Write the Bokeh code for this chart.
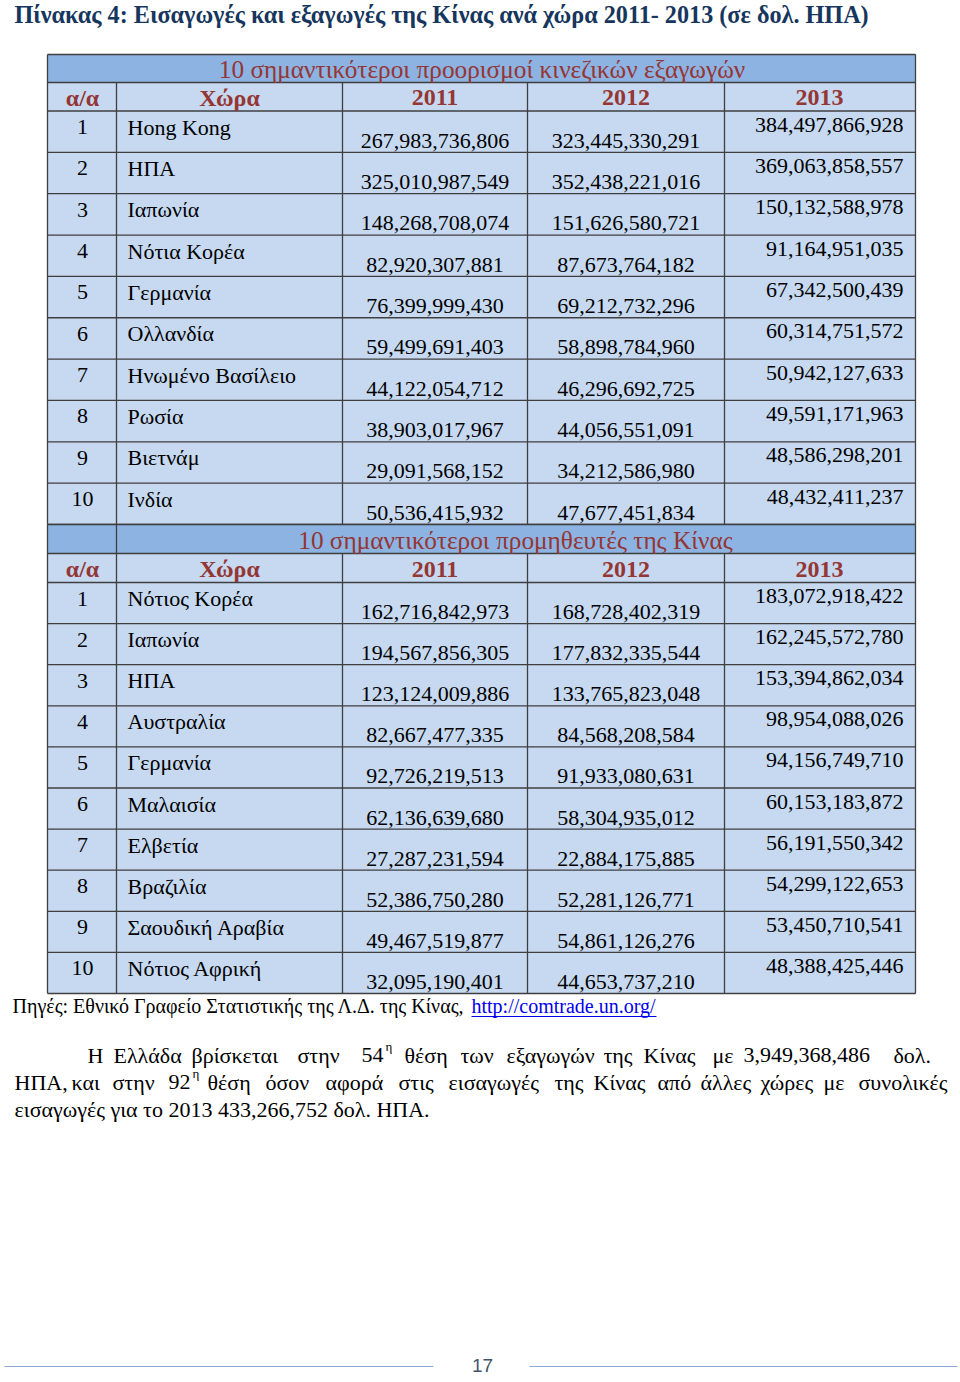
from bokeh.plotting import figure
from bokeh.models import Range1d
from bokeh.core.properties import value
from bokeh.embed import file_html
from bokeh.resources import INLINE

# ---------------- data ----------------
page_title = "Πίνακας 4:  Εισαγωγές και εξαγωγές της Κίνας ανά χώρα 2011- 2013 (σε δολ. ΗΠΑ)"
exp_title = "10 σημαντικότεροι προορισμοί κινεζικών εξαγωγών"
imp_title = "10 σημαντικότεροι προμηθευτές της Κίνας"
header = ["α/α", "Χώρα", "2011", "2012", "2013"]

exp_countries = ["Hong Kong", "ΗΠΑ", "Ιαπωνία", "Νότια Κορέα", "Γερμανία", "Ολλανδία",
                 "Ηνωμένο Βασίλειο", "Ρωσία", "Βιετνάμ", "Ινδία"]
exp_2011 = [267983736806, 325010987549, 148268708074, 82920307881, 76399999430,
            59499691403, 44122054712, 38903017967, 29091568152, 50536415932]
exp_2012 = [323445330291, 352438221016, 151626580721, 87673764182, 69212732296,
            58898784960, 46296692725, 44056551091, 34212586980, 47677451834]
exp_2013 = [384497866928, 369063858557, 150132588978, 91164951035, 67342500439,
            60314751572, 50942127633, 49591171963, 48586298201, 48432411237]

imp_countries = ["Νότιος Κορέα", "Ιαπωνία", "ΗΠΑ", "Αυστραλία", "Γερμανία", "Μαλαισία",
                 "Ελβετία", "Βραζιλία", "Σαουδική Αραβία", "Νότιος Αφρική"]
imp_2011 = [162716842973, 194567856305, 123124009886, 82667477335, 92726219513,
            62136639680, 27287231594, 52386750280, 49467519877, 32095190401]
imp_2012 = [168728402319, 177832335544, 133765823048, 84568208584, 91933080631,
            58304935012, 22884175885, 52281126771, 54861126276, 44653737210]
imp_2013 = [183072918422, 162245572780, 153394862034, 98954088026, 94156749710,
            60153183872, 56191550342, 54299122653, 53450710541, 48388425446]

source_text = "Πηγές: Εθνικό Γραφείο Στατιστικής της Λ.Δ. της Κίνας,"
source_link = "http://comtrade.un.org/"
para_line1 = ["Η", "Ελλάδα", "βρίσκεται", "στην", "54", "θέση", "των", "εξαγωγών", "της",
              "Κίνας", "με", "3,949,368,486", "δολ."]
para_line2 = ["ΗΠΑ,", "και", "στην", "92", "θέση", "όσον", "αφορά", "στις", "εισαγωγές",
              "της", "Κίνας", "από", "άλλες", "χώρες", "με", "συνολικές"]
para_line3 = "εισαγωγές για το 2013 433,266,752 δολ. ΗΠΑ."
page_number = "17"

# ---------------- layout ----------------
SERIF = value("Liberation Serif")
RED = "#943634"
NAVY = "#17365D"
DARK_FILL = "#8DB3E2"
LIGHT_FILL = "#C6D9F1"
GRID = "#3F3F3F"
TSHIFT = -8.5  # baseline correction for rendered text

L, R = 47, 915
col_lines = [116, 342, 527, 724]
col_centers = [82, 229, 434.5, 625.5, 819]
name_x = 127
right_x = 903

p = figure(width=960, height=1382, x_range=Range1d(0, 960), y_range=Range1d(1382, 0),
           output_backend="svg", toolbar_location=None, min_border=0)
p.axis.visible = False
p.grid.visible = False
p.outline_line_color = None
p.background_fill_color = "white"
p.border_fill_color = "white"


def txt(x, y, t, size="22px", color="black", align="left", style="normal", font=SERIF):
    p.text(x=x, y=[v + TSHIFT for v in y], text=t, text_font=font, text_font_size=size,
           text_color=color, text_align=align, text_baseline="alphabetic", text_font_style=style)


# page title
txt([14], [22], [page_title], size="24.2px", color=NAVY, style="bold")


def section(title_top, title_bot, header_bot, row_h, names, v11, v12, v13, title, title_cx, split_title):
    rows_top = [header_bot + i * row_h for i in range(len(names))]
    bottom = header_bot + len(names) * row_h
    p.quad(left=[L], right=[R], top=[title_top], bottom=[title_bot], fill_color=DARK_FILL, line_color=None)
    p.quad(left=[L], right=[R], top=[title_bot], bottom=[bottom], fill_color=LIGHT_FILL, line_color=None)
    ys = [title_top, title_bot, header_bot] + [t + row_h for t in rows_top]
    p.segment(x0=[L] * len(ys), x1=[R] * len(ys), y0=ys, y1=ys, line_color=GRID, line_width=1.3)
    p.segment(x0=[L, R], x1=[L, R], y0=[title_top] * 2, y1=[bottom] * 2, line_color=GRID, line_width=1.3)
    p.segment(x0=col_lines, x1=col_lines, y0=[title_bot] * 4, y1=[bottom] * 4, line_color=GRID, line_width=1.3)
    if split_title:
        p.segment(x0=[col_lines[0]], x1=[col_lines[0]], y0=[title_top], y1=[title_bot], line_color=GRID, line_width=1.3)
    txt([title_cx], [title_bot - 5], [title], size="25.3px", color=RED, align="center")
    txt(col_centers, [header_bot - 5] * 5, header, size="24px", color=RED, align="center", style="bold")
    n = len(names)
    txt([col_centers[0]] * n, [t + 24.5 for t in rows_top], [str(i + 1) for i in range(n)], align="center")
    txt([name_x] * n, [t + 24.5 for t in rows_top], names)
    txt([col_centers[2]] * n, [t + 38 for t in rows_top], [f"{v:,}" for v in v11], align="center")
    txt([col_centers[3]] * n, [t + 38 for t in rows_top], [f"{v:,}" for v in v12], align="center")
    txt([right_x] * n, [t + 22 for t in rows_top], [f"{v:,}" for v in v13], align="right")


section(54, 82, 110.5, 41.35, exp_countries, exp_2011, exp_2012, exp_2013, exp_title, 481.5, False)
section(524, 553, 582, 41.1, imp_countries, imp_2011, imp_2012, imp_2013, imp_title, 515, True)

# source line
txt([12], [1014], [source_text], size="20px")
txt([471], [1014], [source_link], size="20px", color="#0000EE")
p.segment(x0=[471], x1=[656], y0=[1016], y1=[1016], line_color="#0000EE", line_width=1)

# paragraph (justified: word starts)
l1_x = [87, 113, 191, 297, 361, 404, 460, 506, 603, 643, 712, 743, 893]
l2_x = [14, 71, 112, 168, 207, 265, 325, 398, 448, 554, 593, 657, 700, 760, 823, 858]
txt(l1_x, [1063] * len(l1_x), para_line1)
txt(l2_x, [1090] * len(l2_x), para_line2)
txt([385, 192], [1054, 1081], ["η", "η"], size="13px")
txt([14], [1117], [para_line3])

# footer
p.segment(x0=[4, 529], x1=[433, 957], y0=[1366, 1366], y1=[1366, 1366], line_color="#8EAADB", line_width=1.2)
txt([482], [1373], [page_number], size="19px", color="#44546A", align="center", font=value("Liberation Sans"))

open("out.html", "w").write(file_html(p, INLINE))
